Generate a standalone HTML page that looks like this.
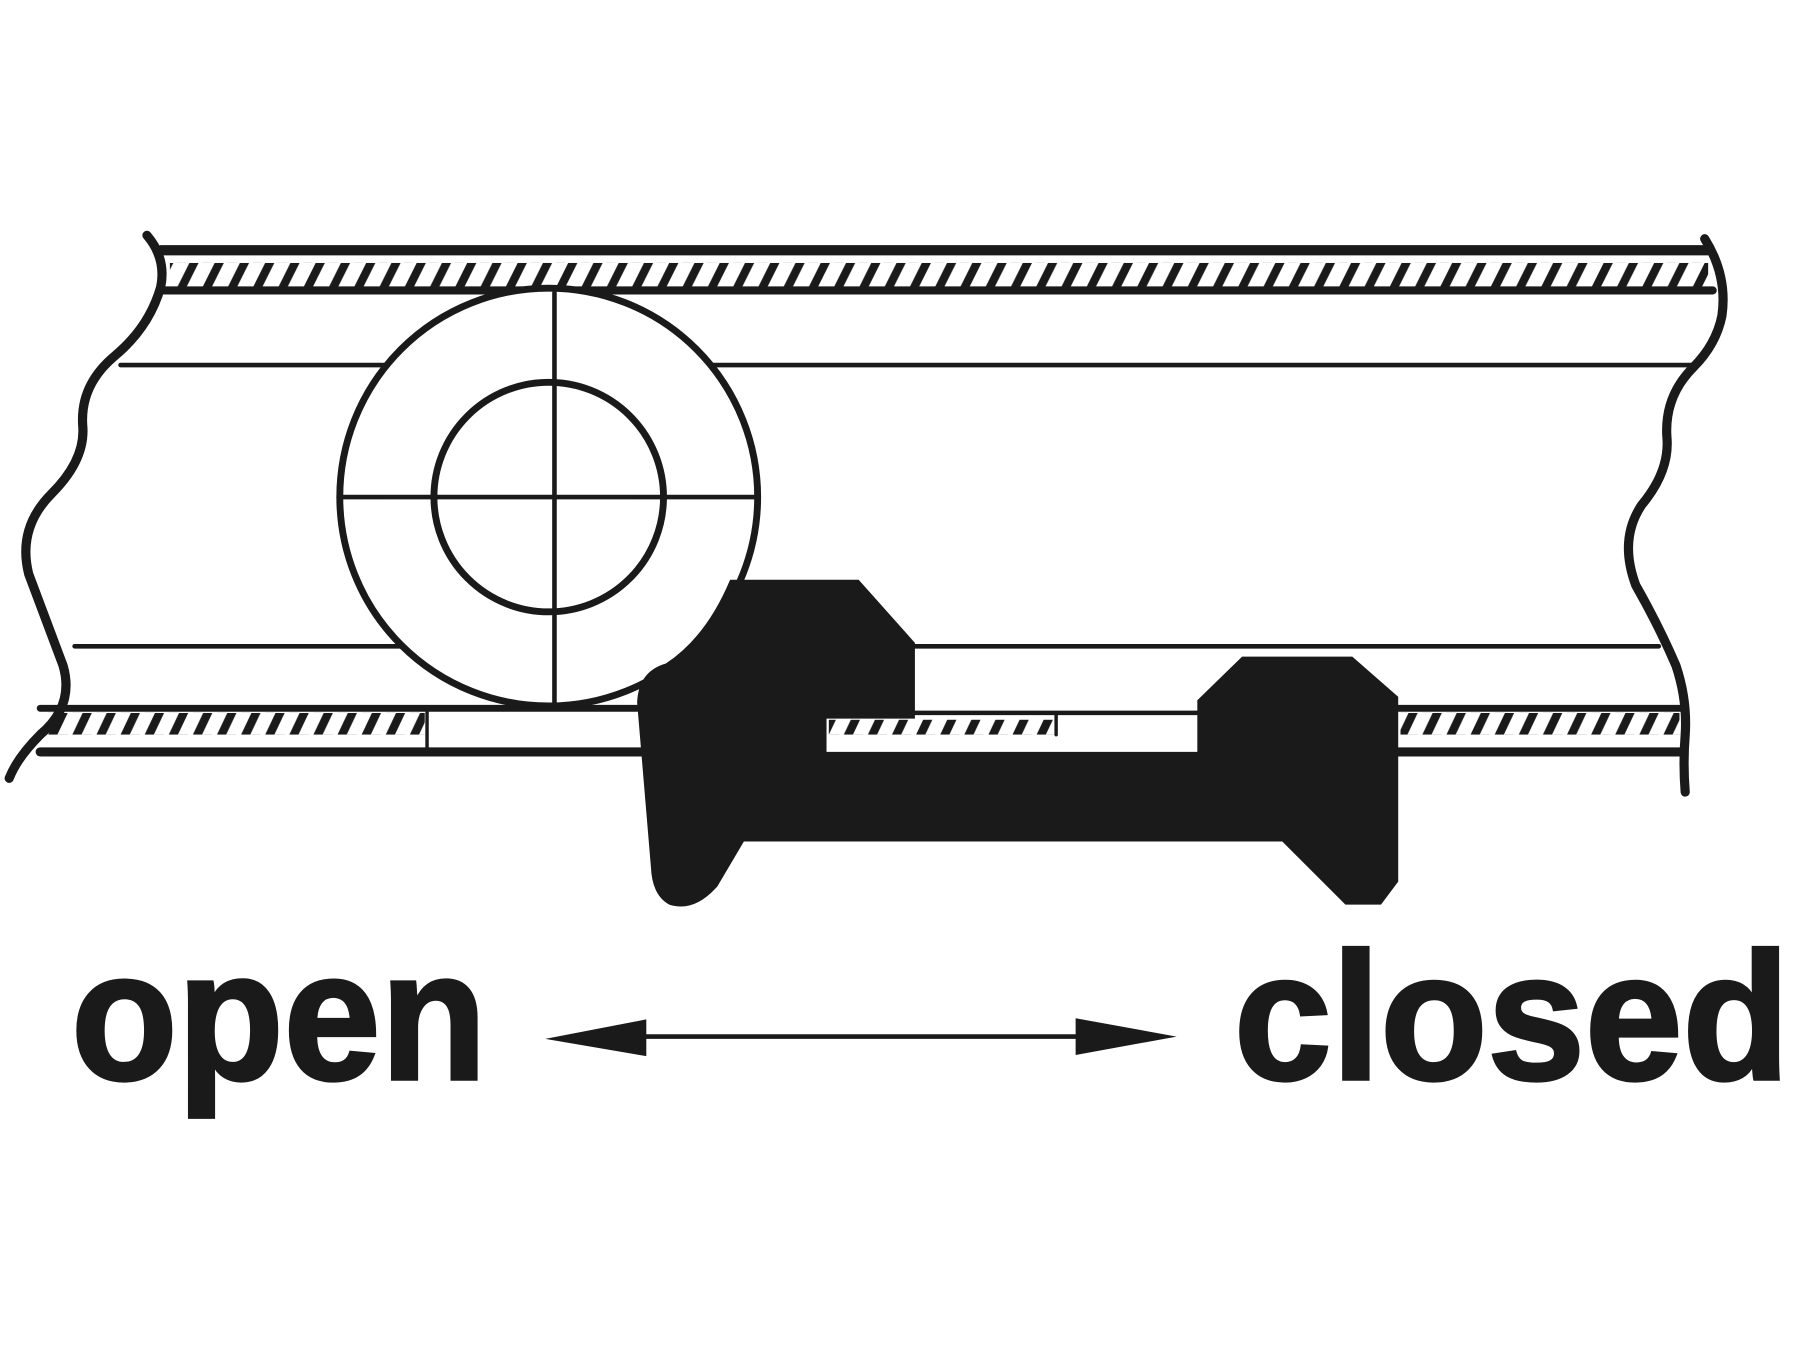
<!DOCTYPE html>
<html><head><style>html,body{margin:0;padding:0;background:#fff}svg{display:block}</style></head><body>
<svg width="1800" height="1350" viewBox="0 0 1568 1176" xmlns="http://www.w3.org/2000/svg">
<defs>
<pattern id="h1" patternUnits="userSpaceOnUse" width="22" height="22" x="0" y="229">
<polygon points="0,22 8,22 19,0 11,0" fill="#1a1a1a"/>
</pattern>
<pattern id="h2" patternUnits="userSpaceOnUse" width="21" height="19" x="0" y="621">
<polygon points="0,19 8,19 17,0 9,0" fill="#1a1a1a"/>
</pattern>
</defs>
<rect width="1568" height="1176" fill="#fff"/>
<g stroke="#1a1a1a" fill="none" stroke-linecap="round">
<rect x="148" y="229" width="1340" height="22" fill="url(#h1)" stroke="none"/>
<line x1="140" y1="218" x2="1488" y2="218" stroke-width="9"/>
<line x1="140" y1="253" x2="1492" y2="253" stroke-width="7"/>
<line x1="105" y1="318" x2="1478" y2="318" stroke-width="4"/>
<line x1="65" y1="563" x2="1445" y2="563" stroke-width="4"/>
<rect x="40" y="621" width="330" height="19" fill="url(#h2)" stroke="none"/>
<rect x="722" y="627" width="196" height="13" fill="url(#h2)" stroke="none"/>
<rect x="1220" y="621" width="243" height="19" fill="url(#h2)" stroke="none"/>
<line x1="35" y1="617" x2="555" y2="617" stroke-width="6"/>
<line x1="35" y1="655" x2="560" y2="655" stroke-width="8"/>
<line x1="797" y1="621" x2="1043" y2="621" stroke-width="4"/>
<line x1="1218" y1="617" x2="1465" y2="617" stroke-width="6"/>
<line x1="1218" y1="655" x2="1465" y2="655" stroke-width="8"/>
<line x1="372" y1="617" x2="372" y2="655" stroke-width="3"/>
<line x1="920" y1="621" x2="920" y2="640" stroke-width="3"/>
<path d="M128,205 Q145,225 140,250 Q130,285 100,310 Q70,335 72,370 Q75,400 45,430 Q15,460 25,500 Q40,540 55,580 Q65,615 35,640 Q15,660 8,678" stroke-width="8"/>
<path d="M1485,208 Q1505,240 1500,275 Q1495,300 1475,320 Q1450,345 1452,380 Q1455,410 1430,440 Q1410,470 1425,510 Q1445,545 1460,580 Q1470,610 1468,640 Q1466,665 1468,690" stroke-width="8"/>
<circle cx="478" cy="433" r="182" fill="#fff" stroke-width="6"/>
<circle cx="478" cy="433" r="100" stroke-width="6"/>
<line x1="295" y1="433" x2="660" y2="433" stroke-width="4"/>
<line x1="483" y1="255" x2="483" y2="612" stroke-width="4"/>
</g>
<path d="M636,505 L748,505 L797,560 L797,626 L720,626 L720,655 L1043,655 L1043,610 L1082,572 L1178,572 L1218,607 L1218,768 L1203,788 L1172,788 L1117,733 L648,733 L625,772 Q605,795 583,788 Q568,780 567,755 L555,612 Q556,585 580,578 Q615,555 636,505 Z" fill="#1a1a1a"/>
<line x1="520" y1="903" x2="990" y2="903" stroke="#1a1a1a" stroke-width="4"/>
<polygon points="475,905 563,888 563,920" fill="#1a1a1a"/>
<polygon points="1025,903 937,887 937,919" fill="#1a1a1a"/>
<g font-family="Liberation Sans, sans-serif" font-weight="bold" fill="#1a1a1a" stroke="#1a1a1a" stroke-width="3">
<text x="62" y="940" font-size="160" textLength="362" lengthAdjust="spacingAndGlyphs">open</text>
<text x="1075" y="940" font-size="158" textLength="484" lengthAdjust="spacingAndGlyphs">closed</text>
</g>
</svg>
</body></html>
